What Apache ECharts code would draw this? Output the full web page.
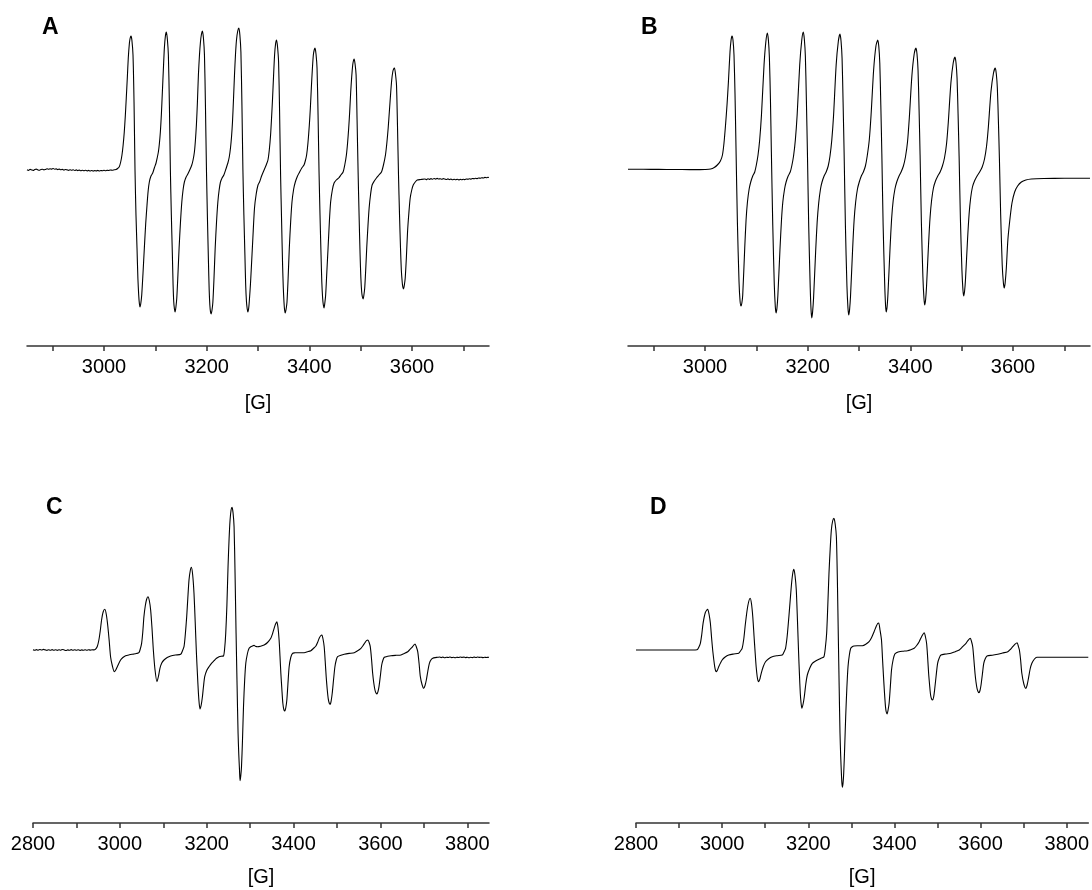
<!DOCTYPE html>
<html>
<head>
<meta charset="utf-8">
<script src="https://cdn.jsdelivr.net/npm/echarts@6/dist/echarts.min.js"></script>
<style>
html,body{margin:0;padding:0;background:#fff;}
#chart{width:1092px;height:890px;}
</style>
</head>
<body>
<div id="chart"></div>
<script>
// ---------- DATA (field in G, intensity in arbitrary units; baseline = 0) ----------
const panelLabels = ['A', 'B', 'C', 'D'];
const axisNameText = '[G]';

const ticksAB = [2900, 3000, 3100, 3200, 3300, 3400, 3500, 3600, 3700];
const labelsAB = [3000, 3200, 3400, 3600];
const ticksCD = [2800, 2900, 3000, 3100, 3200, 3300, 3400, 3500, 3600, 3700, 3800];
const labelsCD = [2800, 3000, 3200, 3400, 3600, 3800];

// A: experimental spectrum
const spectrumA = [
[2850,0.3],[2853,-0.4],[2856,0.6],[2859,0.1],[2862,-0.5],[2865,0.4],[2868,0.9],[2871,0.2],[2874,-0.3],[2877,0.5],[2880,0.8],[2883,0.1],[2886,0.6],[2889,1.2],[2892,0.7],[2895,1.3],[2898,0.9],[2901,1.5],[2904,0.8],[2907,1.1],[2910,0.4],[2913,0.9],[2916,0.2],[2919,0.6],[2922,-0.1],[2925,0.5],[2928,0.1],[2931,-0.4],[2934,0.3],[2937,-0.2],[2940,0.2],[2943,-0.5],[2946,0.1],[2949,-0.6],[2952,-0.1],[2955,-0.7],[2958,-0.2],[2961,-0.8],[2964,-0.3],[2967,-0.9],[2970,-0.4],[2973,-1.0],[2976,-0.5],[2979,-1.1],[2982,-0.6],[2985,-0.9],[2988,-0.4],[2991,-1.0],[2994,-0.5],[2997,-0.8],[3000,-0.3],[3003,-0.7],[3006,-0.2],[3009,-0.5],[3012,0],[3016,-0.3],[3020,0.2],
[3023.3,0.5],[3026.5,1.5],[3029.8,3.3],[3032.5,8],[3035,15],[3037.3,25],[3039.5,38],[3041.5,54],[3043.4,72],[3045.4,92],[3047.3,112],[3049.5,127],[3051,132],[3052.6,134],[3054.3,130],[3056.5,115],[3058.5,68],[3060.4,0],[3062.3,-45],[3064.3,-78],[3066,-108],[3067.6,-125],[3069,-134],[3070.2,-137],[3071.8,-133],[3073.5,-125],[3076,-103],[3078.6,-78],[3081.2,-54],[3083.8,-35],[3086,-21],[3088.3,-12],[3091.5,-6],[3094.9,-3],[3098,2],[3101.4,7],[3103.6,12],[3105.9,18],[3107.8,26],[3109.8,38],[3111.8,56],[3113.7,78],[3115.6,100],[3117.6,122],[3119.6,134],[3121.5,138],[3123.4,131],[3125.4,115],[3127.4,65],[3129.3,0],[3131.2,-45],[3133.2,-85],[3134.6,-115],[3135.9,-132],[3137.2,-139],[3138.5,-142],[3140.1,-137],[3141.8,-128],[3144,-105],[3146.3,-78],[3149,-52],[3151.6,-32],[3154,-20],[3156.6,-12],[3160,-7],[3163.3,-4],[3167,0],[3171,5],[3173.5,10],[3176.1,18],[3178,29],[3180,45],[3182,68],[3183.9,95],[3186,115],[3187.9,128],[3189.9,136],[3191.8,139],[3193.7,132],[3195.7,115],[3197.6,65],[3199.6,0],[3201.5,-48],[3203.5,-92],[3204.9,-120],[3206.2,-135],[3207.5,-142],[3208.7,-144],[3210.4,-140],[3212.1,-132],[3214.3,-108],[3216.6,-78],[3219.2,-52],[3221.8,-32],[3224.3,-20],[3226.9,-12],[3230,-8],[3233.5,-5],[3237.5,1],[3241.3,7],[3244,13],[3246.4,22],[3248.4,33],[3250.3,48],[3252.2,70],[3254.2,95],[3256.1,115],[3258.1,130],[3260.5,139],[3262.8,142],[3264.7,135],[3266.7,118],[3268.7,65],[3270.6,0],[3272.5,-45],[3274.5,-85],[3276,-115],[3277.6,-132],[3279,-139],[3280.3,-142],[3281.9,-138],[3283.5,-128],[3285.2,-115],[3286.8,-100],[3290,-68],[3293.2,-38],[3296.5,-24],[3300,-15],[3303,-12],[3307,-6],[3312.7,1],[3316,5],[3319.4,10],[3322,20],[3324.5,35],[3326.4,52],[3328.4,72],[3330.3,94],[3332.3,115],[3334.2,126],[3336.2,130],[3338.1,123],[3340.1,108],[3342,60],[3344,-5],[3346,-52],[3347.9,-95],[3349.3,-118],[3350.6,-132],[3351.8,-140],[3353.1,-143],[3354.8,-139],[3356.5,-132],[3358.7,-108],[3361,-78],[3363.6,-52],[3366.2,-32],[3369.5,-19],[3372.7,-12],[3377,-6],[3381.1,-2],[3385.3,2],[3389.6,5],[3392.1,9],[3394.7,15],[3397.3,27],[3400,45],[3402,62],[3403.9,82],[3405.8,100],[3407.8,115],[3409.5,120],[3411.1,122],[3413,116],[3415,102],[3417,55],[3418.9,-2],[3420.8,-45],[3422.8,-85],[3424.3,-112],[3425.9,-128],[3427.3,-135],[3428.7,-138],[3430.2,-133],[3431.8,-125],[3434.1,-102],[3436.5,-78],[3439,-52],[3441.5,-32],[3444.8,-20],[3448.2,-13],[3452.5,-10],[3457.2,-8],[3461.5,-5],[3465.8,-2],[3469,5],[3472.2,15],[3474.5,27],[3476.7,42],[3478.6,58],[3480.6,78],[3482.5,93],[3484.5,105],[3485.8,109],[3487.2,111],[3489.1,106],[3491.1,95],[3493,50],[3495,-2],[3496.9,-45],[3498.9,-85],[3500.4,-108],[3502,-122],[3503.4,-127],[3504.8,-129],[3506.3,-125],[3507.9,-118],[3509.8,-100],[3511.8,-78],[3514.2,-56],[3516.5,-38],[3519.4,-24],[3522.3,-15],[3526.5,-11],[3530.7,-8],[3535.6,-5],[3540.5,-2],[3544.4,5],[3548.3,15],[3551,27],[3553.6,42],[3556.1,60],[3558.6,78],[3560.5,90],[3562.5,98],[3564.2,101],[3565.9,102],[3567.8,96],[3569.8,85],[3571.7,45],[3573.7,-5],[3575.7,-45],[3577.6,-78],[3579.2,-100],[3580.9,-112],[3582.1,-117],[3583.4,-119],[3585.1,-115],[3586.8,-108],[3589,-88],[3591.3,-62],[3593.9,-43],[3596.5,-28],[3599.5,-20],[3602.4,-15],[3606.3,-12],[3610.2,-10],[3617,-9.5],[3625,-9],
[3628,-9.6],[3631,-8.8],[3634,-9.4],[3637,-8.6],[3640,-9.2],[3643,-8.5],[3646,-9.1],[3649,-8.4],[3652,-9.0],[3655,-8.7],[3658,-9.3],[3661,-8.6],[3664,-9.0],[3667,-9.5],[3670,-8.9],[3673,-9.6],[3676,-9.1],[3679,-9.7],[3682,-9.2],[3685,-9.8],[3688,-9.3],[3691,-9.9],[3694,-9.4],[3697,-9.8],[3700,-9.2],[3703,-9.6],[3706,-9.0],[3709,-9.3],[3712,-8.7],[3715,-9.1],[3718,-8.5],[3721,-8.8],[3724,-8.2],[3727,-8.6],[3730,-8.0],[3733,-8.3],[3736,-7.7],[3739,-8.0],[3742,-7.4],[3745,-7.8],[3748,-7.3],[3750,-7.5]
];

// B: simulated spectrum
const spectrumB = [
[2850,0.8],[2880,0.7],[2910,0.6],[2940,0.5],[2970,0.4],[2990,0.4],[3000,0.5],[3011,1],[3018,2.5],[3024,5],[3030,9],[3034,15],[3037,27],[3040,45],[3043,66],[3045.6,88],[3048.7,118],[3050.8,130],[3052.6,134],[3054.5,130],[3056.5,115],[3058.5,75],[3060.4,22],[3063.1,-52],[3066.3,-112],[3068.3,-131],[3070.2,-136],[3071.8,-133],[3073.5,-125],[3077.4,-78],[3080,-50],[3082.7,-32],[3086,-19],[3089.1,-12],[3093,-6],[3096.9,-2],[3100,5],[3103.3,15],[3106.5,30],[3110,55],[3115,105],[3118.5,128],[3121.5,137],[3123.5,130],[3125.4,113],[3127.5,70],[3129.3,18],[3132,-55],[3135,-115],[3137,-137],[3138.5,-143],[3140.2,-138],[3142,-125],[3146,-80],[3149,-50],[3151.6,-32],[3155,-19],[3158,-12],[3162,-6],[3166,-2],[3169,4],[3172.5,14],[3176,30],[3179.5,55],[3184.5,105],[3188.5,130],[3191.5,138],[3193.5,131],[3195.5,114],[3197.5,70],[3199.5,18],[3202,-55],[3205,-118],[3206.6,-140],[3208,-148],[3209.6,-142],[3211.5,-128],[3215.5,-82],[3218.5,-52],[3221.5,-33],[3225,-19],[3228,-12],[3232,-6],[3236,-2],[3240,4],[3243.5,14],[3247,30],[3250.5,55],[3255.5,105],[3259.8,129],[3263,136],[3265,129],[3267,112],[3269,68],[3271,17],[3273.5,-55],[3276.5,-116],[3278.5,-138],[3280,-145],[3281.6,-140],[3283.5,-126],[3287.5,-80],[3290.5,-50],[3293.5,-32],[3297,-19],[3300.5,-12],[3304.5,-6],[3308.5,-2],[3312.5,4],[3316,14],[3320,30],[3323.5,55],[3328.5,100],[3333,124],[3336.5,130],[3338.5,124],[3340.5,107],[3342.5,65],[3344.5,16],[3347,-55],[3350,-113],[3351.7,-135],[3353,-142],[3354.7,-137],[3356.5,-123],[3360.5,-78],[3363.5,-49],[3366.5,-31],[3370,-19],[3373.5,-12],[3378,-6],[3382,-2],[3386.5,4],[3390.5,13],[3394.5,28],[3398,52],[3403,94],[3407.5,116],[3411,122],[3413,116],[3415,100],[3417,61],[3419,15],[3421.5,-52],[3424.5,-107],[3426.5,-128],[3428,-135],[3429.7,-130],[3431.5,-117],[3435.5,-74],[3438.5,-47],[3441.5,-30],[3445,-18],[3449,-11],[3453.5,-6],[3458,-2],[3462.5,4],[3466.5,12],[3470.5,26],[3474,48],[3479,87],[3483.5,107],[3487,113],[3489,107],[3491,92],[3493,56],[3495,14],[3497.5,-48],[3500.5,-100],[3502.5,-120],[3504,-126],[3505.7,-121],[3507.5,-109],[3511.5,-69],[3514.5,-44],[3517.5,-28],[3521,-17],[3525,-11],[3530,-6],[3535,-2],[3540,3],[3544.5,11],[3548.5,24],[3552,43],[3557,78],[3562,97],[3565.5,102],[3567.5,96],[3569.5,82],[3571.5,50],[3573.5,12],[3576,-45],[3579,-95],[3581.3,-113],[3583,-118],[3584.7,-113],[3587,-98],[3590,-70],[3593.4,-52],[3598,-33],[3603.2,-22],[3609,-16],[3616.3,-12],[3625,-10],[3635.8,-9],[3660,-8.5],[3700,-8.3],[3750,-8.2]
];

// C: experimental spectrum
const spectrumC = [
[2800,0.2],[2804,-0.3],[2808,0.4],[2812,-0.2],[2816,0.5],[2820,0],[2824,0.6],[2828,0.1],[2832,-0.4],[2836,0.3],[2840,-0.2],[2844,0.4],[2848,-0.3],[2852,0.2],[2856,-0.4],[2860,0.3],[2864,-0.2],[2868,0.5],[2872,0],[2876,-0.5],[2880,0.1],[2884,-0.3],[2888,0.4],[2892,-0.2],[2896,0.3],[2900,-0.3],[2904,0.2],[2908,-0.4],[2912,0.1],[2916,-0.3],[2920,0.2],[2924,-0.2],[2928,0.3],[2932,-0.1],[2936,0.2],[2940,0.1],
[2944.1,0.8],[2948,3.5],[2951.7,10],[2954.8,19],[2957.9,30],[2961.5,38],[2965.5,40.7],[2969,35],[2972.4,23.3],[2975.5,9],[2978.6,-6.7],[2982.8,-16],[2987.2,-21.7],[2990.5,-20],[2994.1,-16.7],[3001.7,-10],[3007,-7.5],[3013.2,-5.7],[3022,-4.8],[3032.4,-4],[3038,-3.5],[3043.9,-2.7],[3047,1],[3050.1,6.7],[3052.8,18],[3055.4,33.3],[3058.5,44],[3061.5,50.5],[3064.7,53.3],[3067.8,49.5],[3070.9,40],[3074,22],[3077.1,0],[3081,-20],[3085.4,-31.7],[3088.8,-26.5],[3092.3,-18.3],[3096.5,-13],[3101.6,-10],[3109,-7.5],[3117,-6],[3128,-5],[3140.1,-4.3],[3144,-1],[3147.7,3.3],[3150.6,15],[3153.9,33.3],[3156.5,52],[3159.2,70],[3162,79],[3164.7,82.7],[3167.7,75],[3170.7,56.7],[3173.5,28],[3176.3,-3.3],[3178.6,-24],[3180.9,-43.3],[3182.8,-54],[3184.6,-59],[3187.3,-55],[3190.1,-46.7],[3192.7,-36],[3195.4,-26.7],[3200,-20.5],[3205.3,-16.7],[3211,-13.3],[3216.9,-10.7],[3222.5,-8.3],[3228.4,-6.7],[3233.5,-6.2],[3238.5,-6],[3241.2,1],[3243.8,16.7],[3246.5,45],[3249.1,83.3],[3251.5,111],[3253.8,130],[3256.1,140],[3258.4,142.7],[3260.7,137],[3263,123.3],[3265.3,75],[3267.6,16.7],[3269.9,-35],[3272.2,-83.3],[3273.9,-105],[3275.5,-120],[3276.8,-130.7],[3278.4,-126],[3280.1,-116.7],[3282.4,-90],[3284.7,-56.7],[3287.4,-30],[3290,-13.3],[3293.8,-3.5],[3297.6,1.7],[3301.5,3.3],[3305.4,4],[3309,4.6],[3312,3.8],[3316.9,3.3],[3324,3.8],[3332.2,5],[3340,7.5],[3347.6,11.7],[3351.4,16],[3355.2,21.7],[3358.5,26],[3361.4,28.3],[3364,23],[3366.7,10],[3368.7,-6],[3370.7,-23.3],[3373,-39],[3375.3,-53.3],[3377.6,-59.5],[3379.9,-61],[3382.2,-57.5],[3384.5,-50],[3387,-34],[3389.8,-16.7],[3393.5,-7.5],[3397.6,-3.3],[3403,-2.8],[3409.2,-2.7],[3417,-2.7],[3424.4,-2.7],[3432,-1.8],[3439.8,-0.7],[3445.5,1.5],[3451.4,4],[3455.2,7.5],[3459,11.7],[3462,14],[3465.2,15],[3467.8,11],[3470.5,3.3],[3472.8,-11],[3475.1,-26.7],[3477.4,-39],[3479.7,-48.3],[3482,-53],[3484.4,-54.3],[3486.7,-50.5],[3489,-43.3],[3492,-30],[3495.2,-16.7],[3498.3,-10],[3501.4,-6.7],[3509,-5.3],[3516.6,-4.3],[3528,-3.4],[3539.7,-2.7],[3547.5,-0.8],[3555.1,1.7],[3559.7,4.3],[3564.3,7.3],[3567.8,9.3],[3571.3,10],[3574,7.5],[3576.6,3.3],[3579.3,-8],[3582.1,-23.3],[3584.7,-33],[3587.4,-40],[3589.8,-43],[3592.1,-44],[3594.4,-41.5],[3596.7,-36.7],[3599.8,-26],[3602.9,-15],[3605.9,-10],[3608.9,-7.3],[3616.6,-6.3],[3624.3,-5.7],[3636,-5.3],[3647.4,-5],[3655,-3.5],[3662.8,-1.7],[3667.5,0.3],[3672.1,2.3],[3676,4.5],[3679.7,6],[3682.8,3],[3685.9,-1.7],[3688.9,-13],[3691.9,-26.7],[3695.8,-34.5],[3699.7,-38.3],[3702.7,-35.5],[3705.7,-30],[3709.2,-21],[3712.7,-13.3],[3716.6,-9.8],[3720.5,-8.3],[3726,-7.6],[3732,-7.3],
[3736,-7.0],[3740,-7.6],[3744,-7.1],[3748,-7.7],[3752,-7.2],[3756,-7.5],[3760,-7.0],[3764,-7.6],[3768,-7.3],[3772,-7.8],[3776,-7.2],[3780,-7.5],[3784,-7.0],[3788,-7.4],[3792,-7.1],[3796,-7.6],[3800,-7.2],[3804,-7.7],[3808,-7.3],[3812,-7.6],[3816,-7.1],[3820,-7.5],[3824,-7.0],[3828,-7.4],[3832,-7.2],[3836,-7.6],[3840,-7.3],[3844,-7.5],[3848,-7.2],[3850,-7.4]
];

// D: simulated spectrum
const spectrumD = [
[2800,0],[2850,0],[2900,0],[2930,0],[2941.7,0.2],[2945.5,2.5],[2949.4,6.7],[2952.5,15],[2955.7,26.7],[2961,37.5],[2966.4,40.7],[2969.5,36],[2972.7,26.7],[2975.3,13],[2978,0],[2980.4,-9],[2982.7,-16.7],[2984.7,-20.5],[2986.6,-21.7],[2989.2,-20],[2992,-16.7],[3000,-10],[3007,-7],[3015.3,-5],[3027,-4],[3038.5,-3.3],[3042.5,-1],[3046.4,1.7],[3050.2,11],[3054.1,26.7],[3059.5,44],[3065.1,51.7],[3068.2,46],[3071.1,33.3],[3074,14],[3076.7,-3.3],[3079,-17],[3081.4,-26.7],[3083.2,-30.5],[3085.1,-31.7],[3087.9,-28.5],[3090.7,-23.3],[3095.5,-16.5],[3100.7,-11.7],[3108,-8.7],[3116.3,-6.7],[3128,-5.7],[3139.5,-5],[3143.5,-2],[3147.2,1.7],[3151,14],[3154.9,33.3],[3158,50],[3161.2,66.7],[3164,77],[3166.5,80.7],[3169.3,74],[3172.1,60],[3174.8,30],[3177.5,-3.3],[3179.4,-24],[3181.4,-43.3],[3183.2,-53],[3185.1,-58.3],[3187.9,-54],[3190.7,-46.7],[3194.2,-34],[3197.7,-25],[3203.5,-18],[3209.3,-13.3],[3217,-11],[3224.7,-9.3],[3230.5,-8],[3236.3,-6.7],[3239.5,2],[3242.6,16.7],[3245.3,45],[3248,76.7],[3250.8,101],[3253.5,120],[3256.5,129],[3259.6,131.7],[3262.4,126],[3265.2,113.3],[3267.5,70],[3269.8,10],[3271.7,-38],[3273.6,-83.3],[3275.2,-106],[3276.8,-123.3],[3278,-133],[3279.2,-137.3],[3280.7,-133],[3282.2,-123.3],[3284.5,-97],[3286.8,-66.7],[3289.5,-38],[3292.2,-16.7],[3295.3,-5],[3298.5,1.7],[3302,3.3],[3306.1,4],[3315,4.2],[3325.7,4.3],[3333.4,5.8],[3341.1,8.3],[3347,12.5],[3352.7,18.3],[3357.5,23.5],[3361,26.5],[3363.5,27],[3366.5,20],[3369.9,10],[3372.2,-8],[3374.6,-26.7],[3376.9,-43],[3379.2,-56.7],[3381,-62],[3382.9,-64],[3385.2,-60],[3387.6,-53.3],[3390.4,-37],[3393.2,-20],[3397,-9.5],[3400.9,-4],[3405.9,-2.5],[3410.9,-1.7],[3420.6,-1.2],[3430.4,-0.7],[3438,0.3],[3445.8,1.7],[3451.6,4.5],[3457.4,8.3],[3463.2,13.5],[3469,17.3],[3471.8,13.5],[3474.6,6.7],[3477,-7],[3479.3,-23.3],[3481.6,-35],[3483.9,-45],[3486.2,-49],[3488.6,-50],[3491,-47],[3493.2,-40],[3496.7,-26],[3500.2,-13.3],[3504,-8],[3507.9,-5],[3519.5,-4],[3531.2,-3.3],[3541,-1.7],[3550.5,0],[3558.3,3.3],[3566.1,6.7],[3571,9.7],[3576.1,11.7],[3578.9,8.5],[3581.7,3.3],[3584.3,-9],[3587,-23.3],[3589.3,-32],[3591.7,-38.3],[3594,-41.5],[3596.3,-42.7],[3598.6,-40.5],[3601,-35],[3604.2,-24],[3607.3,-13.3],[3611,-8.5],[3614.9,-6],[3627,-5.2],[3639.8,-4.3],[3651,-3],[3663.1,-1.7],[3669,0.5],[3674.7,3.3],[3680,5.8],[3684.8,7.3],[3687.5,4],[3690.1,0],[3692.9,-10],[3695.7,-23.3],[3700.4,-34],[3705,-38.3],[3708,-35],[3711.1,-28.3],[3715,-19],[3719,-13.3],[3725,-9],[3730.6,-7.3],[3750,-7.3],[3800,-7.3],[3850,-7.3]
];

// ---------- CHART ----------
const FONT = '"Liberation Sans", Arial, Helvetica, sans-serif';
const chart = echarts.init(document.getElementById('chart'), null, {renderer: 'canvas'});

const grids = [
  {left: 27, top: 20, width: 462, height: 326},
  {left: 628, top: 20, width: 462, height: 326},
  {left: 33, top: 490, width: 456, height: 333},
  {left: 636, top: 490, width: 456, height: 333}
];
const xRanges = [[2850, 3750], [2850, 3750], [2800, 3850], [2800, 3850]];
const yRanges = [[-176, 150], [-176, 150], [-173, 160], [-173, 160]];
const spectra = [spectrumA, spectrumB, spectrumC, spectrumD];

function xAxisFor(i) {
  const ab = i < 2;
  return {
    type: 'value', gridIndex: i, min: xRanges[i][0], max: xRanges[i][1],
    position: 'bottom',
    axisLine: {show: true, onZero: false, lineStyle: {color: '#333', width: 1.5}},
    axisTick: {show: true, inside: false, length: 5, customValues: ab ? ticksAB : ticksCD,
               lineStyle: {color: '#333', width: 1.5}},
    axisLabel: {show: true, customValues: ab ? labelsAB : labelsCD, color: '#000',
                fontSize: 20, fontFamily: FONT, margin: 11,
                formatter: v => String(Math.round(v))},
    splitLine: {show: false},
    name: axisNameText, nameLocation: 'middle', nameGap: ab ? 47 : 44,
    nameTextStyle: {color: '#000', fontSize: 20, fontFamily: FONT}
  };
}

const option = {
  backgroundColor: '#fff',
  animation: false,
  grid: grids.map(g => Object.assign({containLabel: false}, g)),
  xAxis: [0, 1, 2, 3].map(xAxisFor),
  yAxis: [0, 1, 2, 3].map(i => ({type: 'value', gridIndex: i, min: yRanges[i][0], max: yRanges[i][1], show: false})),
  series: spectra.map((d, i) => ({
    type: 'line', xAxisIndex: i, yAxisIndex: i, data: d,
    showSymbol: false, symbol: 'none', smooth: 0.25,
    lineStyle: {color: '#000', width: 1.1}
  })),
  graphic: [
    {type: 'text', left: 42, top: 16, style: {text: panelLabels[0], fontSize: 23, fontWeight: 'bold', fontFamily: FONT, fill: '#000'}},
    {type: 'text', left: 641, top: 16, style: {text: panelLabels[1], fontSize: 23, fontWeight: 'bold', fontFamily: FONT, fill: '#000'}},
    {type: 'text', left: 46, top: 496, style: {text: panelLabels[2], fontSize: 23, fontWeight: 'bold', fontFamily: FONT, fill: '#000'}},
    {type: 'text', left: 650, top: 496, style: {text: panelLabels[3], fontSize: 23, fontWeight: 'bold', fontFamily: FONT, fill: '#000'}}
  ]
};
chart.setOption(option);
</script>
</body>
</html>
